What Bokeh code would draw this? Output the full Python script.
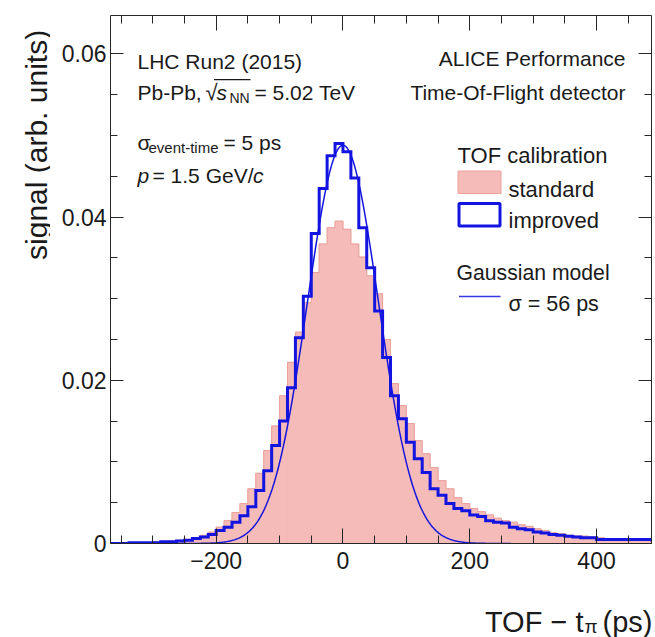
import numpy as np
from bokeh.plotting import figure
from bokeh.layouts import column, row
from bokeh.models import (Range1d, LinearAxis, SingleIntervalTicker, CustomJSTickFormatter,
                          Label, BoxAnnotation, ColumnDataSource)
from bokeh.embed import file_html
from bokeh.resources import INLINE

# ---------------- data ----------------
BIN_START = -375.0      # ps, left edge of first bin
BIN_WIDTH = 12.5        # ps

# TOF calibration "standard" (filled pink histogram), one value per bin from -375 ps
standard = [0.0000, 0.0000, 0.0001, 0.0001, 0.0001, 0.0001, 0.0002, 0.0002, 0.0003, 0.0004,
            0.0005, 0.0007, 0.0010, 0.0014,
            0.0020, 0.0028, 0.0038, 0.0049, 0.0067, 0.0086, 0.0114, 0.0144, 0.0181, 0.0222,
            0.0259, 0.0295, 0.0332, 0.0367, 0.0387, 0.0395,
            0.0385, 0.0367, 0.0351, 0.0328, 0.0306, 0.0250, 0.0196, 0.0169, 0.0147, 0.0126,
            0.0110, 0.0093, 0.0077, 0.0067, 0.0056, 0.0049, 0.0043, 0.0039, 0.0035, 0.0031,
            0.0028, 0.0026, 0.0023, 0.0021, 0.0018, 0.0016, 0.0013, 0.0012, 0.0010, 0.0009,
            0.0009, 0.0008, 0.0007, 0.0006, 0.0006, 0.0006, 0.0005, 0.0005, 0.0005, 0.0005]

# TOF calibration "improved" (thick blue outline histogram)
improved = [0.0000, 0.0000, 0.0000, 0.0001, 0.0001, 0.0001, 0.0001, 0.0002, 0.0002, 0.0003,
            0.0004, 0.0006, 0.0008, 0.0011,
            0.0016, 0.0020, 0.0026, 0.0034, 0.0045, 0.0065, 0.0089, 0.0120, 0.0150, 0.0191,
            0.0252, 0.0303, 0.0380, 0.0435, 0.0475, 0.0490,
            0.0480, 0.0448, 0.0387, 0.0338, 0.0285, 0.0228, 0.0181, 0.0153, 0.0124, 0.0104,
            0.0087, 0.0067, 0.0059, 0.0049, 0.0043, 0.0040, 0.0035, 0.0033, 0.0028, 0.0026,
            0.0025, 0.0020, 0.0018, 0.0017, 0.0014, 0.0013, 0.0011, 0.0010, 0.0009, 0.0008,
            0.0007, 0.0007, 0.0005, 0.0005, 0.0005, 0.0005, 0.0005, 0.0005, 0.0005, 0.0004]

# Gaussian model (sigma = 56 ps as given in the legend)
GAUSS_MEAN = 0.0
GAUSS_SIGMA = 56.0
GAUSS_AMP = 0.0488
GAUSS_FROM, GAUSS_TO = -255.0, 265.0

x_ticks = {"major": 200, "minor_per_major": 4}
y_ticks = {"major": 0.02, "minor_per_major": 4}

# ---------------- styling ----------------
PINK = "#f4bbb8"
PINK_EDGE = "#e9a29c"
BLUE = "#1414e0"
TEXT = "#1a1a1a"
AXIS = "#262626"
FONT = "Liberation Sans"

PAGE_W, PAGE_H = 655, 637
YT_W = 50                 # width of the strip holding the y title
MAIN_H = 588              # height of the main figure
X0, X1 = -366.7, 486.7
Y0, Y1 = 0.0, 0.0647
FL, FT, FW, FH = 110, 15, 541, 528   # frame position on the page (px)


def dx(px):
    return X0 + (px - FL) * (X1 - X0) / FW


def dy(py):
    return Y1 - (py - FT) * (Y1 - Y0) / FH


p = figure(frame_width=FW, frame_height=FH, x_range=Range1d(X0, X1), y_range=Range1d(Y0, Y1),
           output_backend="svg", toolbar_location=None,
           min_border_left=FL - YT_W, min_border_right=PAGE_W - FL - FW, min_border_top=FT,
           min_border_bottom=MAIN_H - FT - FH)
p.xgrid.visible = False
p.ygrid.visible = False
p.outline_line_color = None
p.background_fill_color = "white"
p.border_fill_color = "white"

# histogram geometry from the bin definition
n = len(standard)
edges = [BIN_START + i * BIN_WIDTH for i in range(n + 1)]
src = ColumnDataSource(dict(left=edges[:-1], right=edges[1:], std=standard, imp=improved))

p.quad(left="left", right="right", top="std", bottom=0, source=src,
       fill_color=PINK, line_color=PINK, line_width=1)
p.step(x=edges, y=standard + [standard[-1]], mode="after", line_color=PINK_EDGE, line_width=1)

p.step(x=edges, y=improved + [improved[-1]], mode="after", line_color=BLUE, line_width=3,
       line_join="miter")

gx = np.linspace(GAUSS_FROM, GAUSS_TO, 400)
gy = GAUSS_AMP * np.exp(-0.5 * ((gx - GAUSS_MEAN) / GAUSS_SIGMA) ** 2)
p.line(gx, gy, line_color=BLUE, line_width=1.5)

# ---------------- axes ----------------
xfmt = CustomJSTickFormatter(code="return tick < 0 ? '\\u2212' + Math.abs(tick).toFixed(0) : tick.toFixed(0);")
yfmt = CustomJSTickFormatter(code="return Math.abs(tick) < 1e-9 ? '0' : tick.toFixed(2);")


def style_axis(ax, major_len, minor_len, labels=True):
    ax.axis_line_color = AXIS
    ax.major_tick_line_color = AXIS
    ax.minor_tick_line_color = AXIS
    ax.major_tick_in = major_len
    ax.major_tick_out = 0
    ax.minor_tick_in = minor_len
    ax.minor_tick_out = 0
    ax.major_label_text_font = FONT
    ax.major_label_text_font_size = "23px"
    ax.major_label_text_color = TEXT
    if not labels:
        ax.formatter = CustomJSTickFormatter(code="return '';")
        ax.major_label_standoff = 0
        ax.major_label_text_font_size = "0px"


xa = p.xaxis[0]
xa.ticker = SingleIntervalTicker(interval=x_ticks["major"], num_minor_ticks=x_ticks["minor_per_major"])
xa.formatter = xfmt
style_axis(xa, 15, 8)
xa.major_label_standoff = 8

ya = p.yaxis[0]
ya.ticker = SingleIntervalTicker(interval=y_ticks["major"], num_minor_ticks=y_ticks["minor_per_major"])
ya.formatter = yfmt
style_axis(ya, 13, 7)
ya.major_label_standoff = 4

ta = LinearAxis(ticker=SingleIntervalTicker(interval=x_ticks["major"], num_minor_ticks=x_ticks["minor_per_major"]))
style_axis(ta, 15, 8, labels=False)
p.add_layout(ta, "above")

ra = LinearAxis(ticker=SingleIntervalTicker(interval=y_ticks["major"], num_minor_ticks=y_ticks["minor_per_major"]))
style_axis(ra, 13, 7, labels=False)
p.add_layout(ra, "right")


# ---------------- texts inside the frame ----------------
def mk_label(x, y, text, size, style="normal", align="left", angle=0.0):
    return Label(x=x, y=y, text=text, text_font=FONT, text_font_size=f"{size}px",
                 text_font_style=style, text_color=TEXT, text_align=align,
                 text_baseline="alphabetic", angle=angle)


def txt(px, py, text, size, style="normal", align="left"):
    p.add_layout(mk_label(dx(px), dy(py), text, size, style, align))


txt(137, 60.5, "LHC Run2 (2015)", 21)
txt(137, 92, "Pb-Pb,", 21)
txt(205, 92, "\u221a", 22)
txt(216, 92, "s", 21, style="italic")
txt(229, 97, "NN", 14)
txt(254, 92, "= 5.02 TeV", 21)
p.add_layout(BoxAnnotation(left=dx(213.5), right=dx(250), top=dy(78.6), bottom=dy(79.8),
                           fill_color=TEXT, fill_alpha=1, line_alpha=0))

txt(137, 142, "\u03c3", 21)
txt(148, 147, "event-time", 15)
txt(223, 142, "= 5 ps", 21)

txt(137, 175, "p", 21, style="italic")
txt(152, 175, "= 1.5 GeV/", 21)
txt(252.5, 175, "c", 21, style="italic")

txt(625, 57.5, "ALICE Performance", 21, align="right")
txt(625, 92, "Time-Of-Flight detector", 21, align="right")

txt(457, 155, "TOF calibration", 22)
p.add_layout(BoxAnnotation(left=dx(457.5), right=dx(500.5), top=dy(170.5), bottom=dy(193),
                           fill_color=PINK, fill_alpha=1, line_color=PINK_EDGE, line_alpha=1,
                           line_width=1))
txt(508, 188.5, "standard", 22)
p.add_layout(BoxAnnotation(left=dx(458.5), right=dx(499.5), top=dy(203), bottom=dy(225.5),
                           fill_color=None, fill_alpha=0, line_color=BLUE, line_alpha=1,
                           line_width=3))
txt(508, 220, "improved", 22)

txt(456, 272, "Gaussian model", 21.2)
p.add_layout(BoxAnnotation(left=dx(458.5), right=dx(500), top=dy(295.2), bottom=dy(296.8),
                           fill_color=BLUE, fill_alpha=0.85, line_alpha=0))
txt(508, 303.5, "\u03c3 = 56 ps", 21.5)


# ---------------- axis titles (in strips beside the main figure) ----------------
def strip(w, h):
    f = figure(width=w, height=h, x_range=Range1d(0, w), y_range=Range1d(h, 0),
               x_axis_type=None, y_axis_type=None, output_backend="svg",
               toolbar_location=None, min_border=0)
    f.outline_line_color = None
    f.background_fill_color = "white"
    f.border_fill_color = "white"
    return f


ystrip = strip(YT_W, MAIN_H)
ystrip.add_layout(mk_label(36, 16, "signal (arb. units)", 30, align="right", angle=np.pi / 2))

XT_H = PAGE_H - MAIN_H
xstrip = strip(PAGE_W, XT_H)
XT_BASE = 621 - MAIN_H
xstrip.add_layout(mk_label(583, XT_BASE, "TOF \u2212 t", 29, align="right"))
xstrip.add_layout(mk_label(584, XT_BASE + 5, "\u03c0", 19))
xstrip.add_layout(mk_label(652, XT_BASE, "(ps)", 29, align="right"))

layout = column(row(ystrip, p, spacing=0), xstrip, spacing=0)

open("out.html", "w").write(file_html(layout, INLINE))
